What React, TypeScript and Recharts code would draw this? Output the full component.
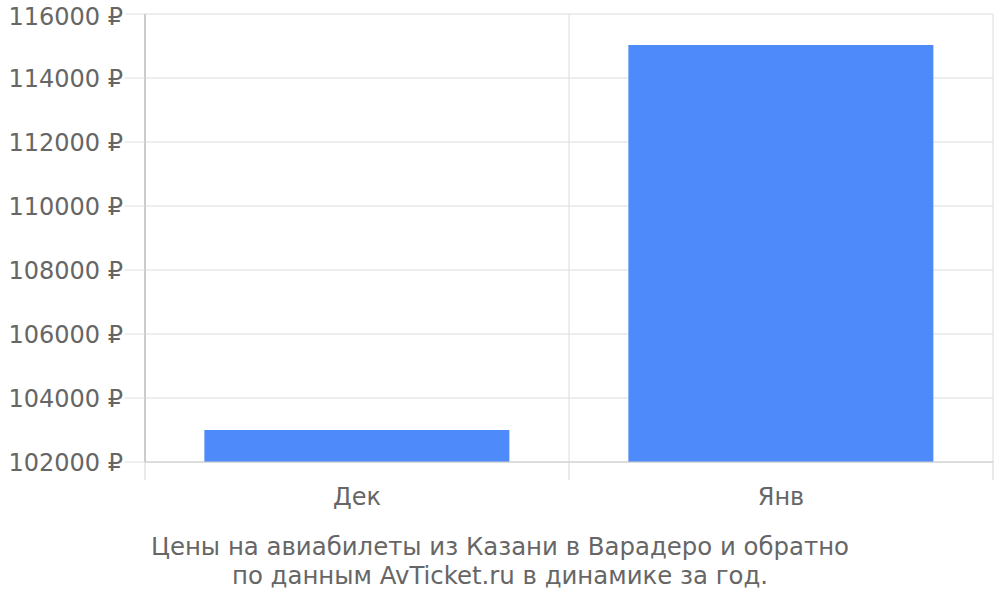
import { BarChart, Bar, XAxis, YAxis, CartesianGrid } from "recharts";

const months = ["Дек", "Янв"];
const prices = [103000, 115030];
const priceTicks = [102000, 104000, 106000, 108000, 110000, 112000, 114000, 116000];
const bandEdges = [0, 1, 2];

const data = months.map((m, i) => ({ month: m, price: prices[i], idx: i + 0.5 }));

const font = "'DejaVu Sans', sans-serif";

// axis ids: 0 = band edges (grid + ticks under the baseline), 1 = month labels
const EDGES = 0;
const CAT = 1;

export default function App() {
  return (
    <div
      style={{
        position: "absolute",
        left: 0,
        top: 0,
        width: 1000,
        height: 600,
        background: "#fff",
        fontFamily: font,
      }}
    >
      <BarChart
        width={1000}
        height={520}
        data={data}
        margin={{ top: 14, right: 7, left: 0, bottom: 18 }}
        barCategoryGap="14%"
      >
        <XAxis
          xAxisId={EDGES}
          type="number"
          dataKey="idx"
          domain={[0, 2]}
          ticks={bandEdges}
          height={1}
          tickFormatter={() => ""}
          tickSize={18}
          tickLine={{ stroke: "#d6d6d6" }}
          axisLine={{ stroke: "#cccccc" }}
        />
        <XAxis
          xAxisId={CAT}
          dataKey="month"
          height={39}
          tickLine={false}
          axisLine={false}
          tickSize={17}
          tickMargin={8}
          tick={{ fill: "#666", fontSize: 24, fontFamily: font }}
        />
        <YAxis
          width={145}
          domain={[102000, 116000]}
          ticks={priceTicks}
          tickFormatter={(v: number) => `${v} ₽`}
          tickSize={20}
          tickMargin={2}
          tickLine={{ stroke: "#e0e0e0" }}
          axisLine={{ stroke: "#aaaaaa" }}
          tick={{ fill: "#666", fontSize: 24, fontFamily: font }}
        />
        <CartesianGrid xAxisId={EDGES} stroke="#dcdcdc" />
        <Bar
          xAxisId={CAT}
          dataKey="price"
          fill="#4e8af9"
          isAnimationActive={false}
        />
      </BarChart>
      <div
        style={{
          position: "absolute",
          left: 0,
          top: 532,
          width: 1000,
          textAlign: "center",
          fontSize: 24.4,
          lineHeight: "29px",
          color: "#666",
        }}
      >
        Цены на авиабилеты из Казани в Варадеро и обратно
        <br />
        по данным AvTicket.ru в динамике за год.
      </div>
    </div>
  );
}
